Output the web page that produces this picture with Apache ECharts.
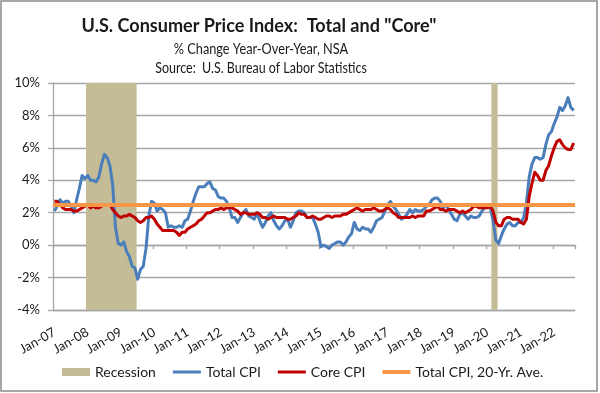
<!DOCTYPE html>
<html>
<head>
<meta charset="utf-8">
<script src="https://cdn.jsdelivr.net/npm/echarts@6/dist/echarts.min.js"></script>
<style>
html,body{margin:0;padding:0;background:#fff;}
#chart{width:600px;height:393px;}
</style>
</head>
<body>
<div id="chart"></div>
<script>
// ---------- DATA ----------
const monthNames = ['Jan','Feb','Mar','Apr','May','Jun','Jul','Aug','Sep','Oct','Nov','Dec'];
const startYear = 2007, endYear = 2022, endMonth = 8; // Jan-07 .. Aug-22

// Total CPI, % change y/y (one row per year)
const totalCPI = [
  2.1, 2.4, 2.8, 2.6, 2.7, 2.7, 2.4, 2.0, 2.8, 3.5, 4.3, 4.1,   // 2007
  4.3, 4.0, 4.0, 3.9, 4.2, 5.0, 5.6, 5.4, 4.9, 3.7, 1.1, 0.1,   // 2008
  0.0, 0.2, -0.4, -0.7, -1.3, -1.4, -2.1, -1.5, -1.3, -0.2, 1.8, 2.7, // 2009
  2.6, 2.1, 2.3, 2.2, 2.0, 1.1, 1.2, 1.1, 1.1, 1.2, 1.1, 1.5,   // 2010
  1.6, 2.1, 2.7, 3.2, 3.6, 3.6, 3.6, 3.8, 3.9, 3.5, 3.4, 3.0,   // 2011
  2.9, 2.9, 2.7, 2.3, 1.7, 1.7, 1.4, 1.7, 2.0, 2.2, 1.8, 1.7,   // 2012
  1.6, 2.0, 1.5, 1.1, 1.4, 1.8, 2.0, 1.5, 1.2, 1.0, 1.2, 1.5,   // 2013
  1.6, 1.1, 1.5, 2.0, 2.1, 2.1, 2.0, 1.7, 1.7, 1.7, 1.3, 0.8,   // 2014
  -0.1, 0.0, -0.1, -0.2, 0.0, 0.1, 0.2, 0.2, 0.0, 0.2, 0.5, 0.7, // 2015
  1.4, 1.0, 0.9, 1.1, 1.0, 1.0, 0.8, 1.1, 1.5, 1.6, 1.7, 2.1,   // 2016
  2.5, 2.7, 2.4, 2.2, 1.9, 1.6, 1.7, 1.9, 2.2, 2.0, 2.2, 2.1,   // 2017
  2.1, 2.2, 2.4, 2.5, 2.8, 2.9, 2.9, 2.7, 2.3, 2.5, 2.2, 1.9,   // 2018
  1.6, 1.5, 1.9, 2.0, 1.8, 1.6, 1.8, 1.7, 1.7, 1.8, 2.1, 2.3,   // 2019
  2.5, 2.3, 1.5, 0.3, 0.1, 0.6, 1.0, 1.3, 1.4, 1.2, 1.2, 1.4,   // 2020
  1.4, 1.7, 2.6, 4.2, 5.0, 5.4, 5.4, 5.3, 5.4, 6.2, 6.8, 7.0,   // 2021
  7.5, 7.9, 8.5, 8.3, 8.6, 9.1, 8.5, 8.3                        // 2022
];

// Core CPI, % change y/y
const coreCPI = [
  2.7, 2.7, 2.5, 2.3, 2.2, 2.2, 2.2, 2.1, 2.1, 2.2, 2.3, 2.4,   // 2007
  2.5, 2.3, 2.4, 2.3, 2.3, 2.4, 2.5, 2.5, 2.5, 2.2, 2.0, 1.8,   // 2008
  1.7, 1.8, 1.8, 1.9, 1.8, 1.7, 1.5, 1.4, 1.5, 1.7, 1.7, 1.8,   // 2009
  1.6, 1.3, 1.1, 0.9, 0.9, 0.9, 0.9, 0.9, 0.8, 0.6, 0.8, 0.8,   // 2010
  1.0, 1.1, 1.2, 1.3, 1.5, 1.6, 1.8, 2.0, 2.0, 2.1, 2.2, 2.2,   // 2011
  2.3, 2.2, 2.3, 2.3, 2.3, 2.2, 2.1, 1.9, 2.0, 2.0, 1.9, 1.9,   // 2012
  1.9, 2.0, 1.9, 1.7, 1.7, 1.6, 1.7, 1.8, 1.7, 1.7, 1.7, 1.7,   // 2013
  1.6, 1.6, 1.7, 1.8, 2.0, 1.9, 1.9, 1.7, 1.7, 1.8, 1.7, 1.6,   // 2014
  1.6, 1.7, 1.8, 1.8, 1.7, 1.8, 1.8, 1.8, 1.9, 1.9, 2.0, 2.1,   // 2015
  2.2, 2.3, 2.2, 2.1, 2.2, 2.2, 2.2, 2.3, 2.2, 2.1, 2.1, 2.2,   // 2016
  2.3, 2.2, 2.0, 1.9, 1.7, 1.7, 1.7, 1.7, 1.7, 1.8, 1.7, 1.8,   // 2017
  1.8, 1.8, 2.1, 2.1, 2.2, 2.3, 2.4, 2.2, 2.2, 2.1, 2.2, 2.2,   // 2018
  2.2, 2.1, 2.0, 2.1, 2.0, 2.1, 2.2, 2.4, 2.4, 2.3, 2.3, 2.3,   // 2019
  2.3, 2.4, 2.1, 1.4, 1.2, 1.2, 1.6, 1.7, 1.7, 1.6, 1.6, 1.6,   // 2020
  1.4, 1.3, 1.6, 3.0, 3.8, 4.5, 4.3, 4.0, 4.0, 4.6, 4.9, 5.5,   // 2021
  6.0, 6.4, 6.5, 6.2, 6.0, 5.9, 5.9, 6.3                        // 2022
];

// 20-year average of Total CPI
const avgTotalCPI = 2.5;

// Recession periods (first month, last month)
const recessionPeriods = [['Jan-08', 'Jun-09'], ['Mar-20', 'Apr-20']];

// Y axis
const yMin = -4, yMax = 10, yStep = 2;

// ---------- BUILD ----------
const categories = [];
for (let y = startYear; y <= endYear; y++) {
  for (let m = 0; m < 12; m++) {
    if (y === endYear && m >= endMonth) break;
    categories.push(monthNames[m] + '-' + String(y).slice(2));
  }
}
const recTop = categories.map(() => null);
const recBottom = categories.map(() => null);
recessionPeriods.forEach(([a, b]) => {
  const i0 = categories.indexOf(a), i1 = categories.indexOf(b);
  for (let i = i0; i <= i1; i++) { recTop[i] = yMax; recBottom[i] = yMin; }
});

const FONT = 'Lato';
const TXT = '#1a1a1a';
const GRID = '#a6a6a6';
const REC = '#C4BC96';
const BLUE = '#4A7EBB', RED = '#C00000', ORANGE = '#F79646';

const chart = echarts.init(document.getElementById('chart'), null, {renderer: 'canvas'});
chart.setOption({
  animation: false,
  backgroundColor: '#fff',
  textStyle: {fontFamily: FONT},
  graphic: [
    {type: 'rect', shape: {x: 1, y: 1, width: 596, height: 390}, style: {fill: 'none', stroke: '#8a8a8a', lineWidth: 1.5}, silent: true},
    {type: 'text', x: 259, y: 26, scaleX: 0.95, style: {text: 'U.S. Consumer Price Index:  Total and "Core"', fontFamily: FONT, fontWeight: 'bold', fontSize: 19, fill: TXT, align: 'center', verticalAlign: 'middle'}},
    {type: 'text', x: 261, y: 49, scaleX: 0.85, style: {text: '% Change Year-Over-Year, NSA', fontFamily: FONT, fontSize: 15, fill: TXT, align: 'center', verticalAlign: 'middle'}},
    {type: 'text', x: 261, y: 68, scaleX: 0.83, style: {text: 'Source:  U.S. Bureau of Labor Statistics', fontFamily: FONT, fontSize: 15, fill: TXT, align: 'center', verticalAlign: 'middle'}}
  ],
  grid: {left: 53, right: 25, top: 83, bottom: 83, containLabel: false},
  legend: {
    left: 57, top: 360,
    itemWidth: 28, itemHeight: 8, itemGap: 17,
    textStyle: {fontFamily: FONT, fontSize: 14, color: TXT},
    data: [
      {name: 'Recession', icon: 'rect'},
      {name: 'Total CPI', icon: 'path://M0,0h28v3h-28z'},
      {name: 'Core CPI', icon: 'path://M0,0h28v3h-28z'},
      {name: 'Total CPI, 20-Yr. Ave.', icon: 'path://M0,0h28v4h-28z'}
    ]
  },
  xAxis: [
    {
      type: 'category', data: categories, position: 'bottom', boundaryGap: true,
      axisLine: {show: true, onZero: false, lineStyle: {color: GRID, width: 1.3}},
      axisTick: {show: false},
      axisLabel: {interval: 11, rotate: 30, margin: 21, fontSize: 13, color: TXT, fontFamily: FONT},
      splitLine: {show: false}
    },
    {
      type: 'category', data: categories, position: 'bottom', boundaryGap: true,
      axisLine: {show: true, onZero: true, lineStyle: {color: GRID, width: 1.3}},
      axisTick: {show: true, interval: 11, length: 4, lineStyle: {color: GRID, width: 1.3}},
      axisLabel: {show: false},
      splitLine: {show: false}
    }
  ],
  yAxis: {
    type: 'value', min: yMin, max: yMax, interval: yStep,
    axisLine: {show: true, lineStyle: {color: GRID, width: 1.3}},
    axisTick: {show: true, length: 5, lineStyle: {color: GRID, width: 1.3}},
    axisLabel: {formatter: '{value}%', fontSize: 13, color: TXT, margin: 13, fontFamily: FONT},
    splitLine: {show: true, lineStyle: {color: GRID, width: 1.3}}
  },
  series: [
    {
      name: 'Recession', type: 'bar', stack: 'rec', data: recTop, xAxisIndex: 0,
      barWidth: 3.4, color: REC,
      itemStyle: {color: REC}, z: 1, silent: true
    },
    {
      name: 'RecessionLow', type: 'bar', stack: 'rec', data: recBottom, xAxisIndex: 0,
      barWidth: 3.4, color: REC,
      itemStyle: {color: REC}, z: 1, silent: true
    },
    {
      name: 'Total CPI', type: 'line', data: totalCPI, xAxisIndex: 0,
      showSymbol: false, symbol: 'none', color: BLUE,
      itemStyle: {color: BLUE},
      lineStyle: {width: 3, color: BLUE, join: 'round'}, z: 3
    },
    {
      name: 'Core CPI', type: 'line', data: coreCPI, xAxisIndex: 0,
      showSymbol: false, symbol: 'none', color: RED,
      itemStyle: {color: RED},
      lineStyle: {width: 3, color: RED, join: 'round'}, z: 4
    },
    {
      name: 'Total CPI, 20-Yr. Ave.', type: 'line', data: [], xAxisIndex: 0,
      showSymbol: false, symbol: 'none', color: ORANGE,
      itemStyle: {color: ORANGE},
      lineStyle: {width: 4, color: ORANGE}, z: 5,
      markLine: {
        silent: true, symbol: ['none', 'none'], label: {show: false},
        lineStyle: {color: ORANGE, width: 4, type: 'solid'},
        data: [{yAxis: avgTotalCPI}]
      }
    }
  ]
});
</script>
</body>
</html>
